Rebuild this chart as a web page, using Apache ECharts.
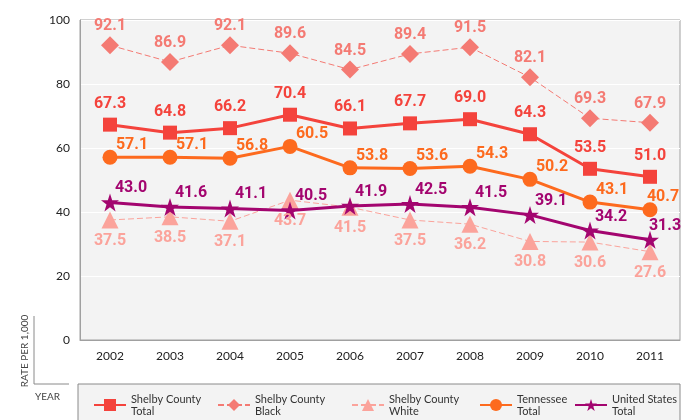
<!DOCTYPE html>
<html>
<head>
<meta charset="utf-8">
<script src="https://cdn.jsdelivr.net/npm/echarts@6/dist/echarts.min.js"></script>
<style>
  html, body { margin: 0; padding: 0; background: #fff; }
  #chart { width: 700px; height: 420px; }
</style>
</head>
<body>
<div id="chart"></div>
<script>
// 数据
var years = ['2002', '2003', '2004', '2005', '2006', '2007', '2008', '2009', '2010', '2011'];
var shelbyTotal = [67.3, 64.8, 66.2, 70.4, 66.1, 67.7, 69.0, 64.3, 53.5, 51.0];
var shelbyBlack = [92.1, 86.9, 92.1, 89.6, 84.5, 89.4, 91.5, 82.1, 69.3, 67.9];
var shelbyWhite = [37.5, 38.5, 37.1, 43.7, 41.5, 37.5, 36.2, 30.8, 30.6, 27.6];
var tennessee = [57.1, 57.1, 56.8, 60.5, 53.8, 53.6, 54.3, 50.2, 43.1, 40.7];
var unitedStates = [43.0, 41.6, 41.1, 40.5, 41.9, 42.5, 41.5, 39.1, 34.2, 31.3];
var yTicks = [0, 20, 40, 60, 80, 100];

var labelFont = 'Roboto, sans-serif';
var textFont = 'Lato, "Open Sans", sans-serif';

function makeSeries(name, values, color, symbol, size, width, dashed, offset, lastOffset) {
    return {
        name: name,
        type: 'line',
        data: values.map(function (v, i) {
            if (lastOffset && i === values.length - 1) {
                return { value: v, label: { offset: lastOffset } };
            }
            return v;
        }),
        symbol: symbol,
        symbolSize: size,
        color: color,
        lineStyle: { color: color, width: width, type: dashed ? [6, 3] : 'solid' },
        itemStyle: { color: color },
        label: {
            show: true,
            position: 'inside',
            offset: offset,
            color: color,
            fontFamily: labelFont,
            fontWeight: 'bold',
            fontSize: 16,
            formatter: function (p) { return p.value.toFixed(1) }
        },
        emphasis: { disabled: true },
        animation: false
    }
}

function legendItem(name, left) {
    return {
        data: [name],
        left: left,
        top: 388,
        orient: 'horizontal',
        itemWidth: 32,
        itemHeight: 15,
        itemGap: 0,
        textStyle: { color: '#333', fontFamily: textFont, fontSize: 11, lineHeight: 12 }
    }
}

var chart = echarts.init(document.getElementById('chart'));
var option = {
    animation: false,
    grid: {
        left: 80, right: 20, top: 20, bottom: 80,
        show: true,
        backgroundColor: '#f3f3f3',
        borderColor: '#a0a0a0',
        borderWidth: 1
    },
    xAxis: {
        type: 'category',
        data: years,
        boundaryGap: true,
        axisLine: { lineStyle: { color: '#a0a0a0' } },
        axisTick: { show: false },
        axisLabel: { color: '#222', fontFamily: textFont, fontSize: 12, margin: 10 }
    },
    yAxis: {
        type: 'value',
        min: yTicks[0],
        max: yTicks[yTicks.length - 1],
        interval: 20,
        axisLine: { show: true, lineStyle: { color: '#a0a0a0' } },
        axisTick: { show: false },
        axisLabel: { color: '#222', fontFamily: textFont, fontSize: 12, margin: 10 },
        splitLine: { lineStyle: { color: '#ffffff', width: 1 } }
    },
    legend: [
        legendItem('Shelby County\nTotal', 88),
        legendItem('Shelby County\nBlack', 212),
        legendItem('Shelby County\nWhite', 346),
        legendItem('Tennessee\nTotal', 474),
        legendItem('United States\nTotal', 569)
    ],
    graphic: [
        {
            type: 'rect', z: -10, silent: true,
            shape: { x: 78, y: 384, width: 602, height: 44 },
            style: { fill: '#f3f3f3', stroke: '#8a8a8a', lineWidth: 1 }
        },
        {
            type: 'polyline', silent: true,
            shape: { points: [[34, 316], [34, 384], [69, 384]] },
            style: { stroke: '#8a8a8a', lineWidth: 1, fill: null }
        },
        {
            type: 'text', silent: true,
            x: 25, y: 351, rotation: Math.PI / 2,
            style: {
                text: 'RATE PER 1,000', fill: '#444', font: '10px ' + textFont,
                align: 'center', verticalAlign: 'middle'
            }
        },
        {
            type: 'text', silent: true,
            x: 35, y: 397,
            style: {
                text: 'YEAR', fill: '#444', font: '10px ' + textFont,
                align: 'left', verticalAlign: 'middle'
            }
        }
    ],
    series: [
        makeSeries('Shelby County\nTotal', shelbyTotal, '#f4433c', 'rect', 14, 3, false, [0, -21]),
        makeSeries('Shelby County\nBlack', shelbyBlack, '#f47a73', 'diamond', 18, 1, true, [0, -19]),
        makeSeries('Shelby County\nWhite', shelbyWhite, '#fba39b', 'triangle', 17, 1, true, [0, 21]),
        makeSeries('Tennessee\nTotal', tennessee, '#fd6a1e', 'circle', 15, 3, false, [22, -12], [13, -13]),
        makeSeries('United States\nTotal', unitedStates, '#a3056f',
            'path://M50,0 L61.8,35.1 L98.9,35.1 L68.9,56.7 L80.3,91.5 L50,70 L19.7,91.5 L31.1,56.7 L1.1,35.1 L38.2,35.1 Z',
            18, 3, false, [21, -14], [15, -14])
    ]
};
chart.setOption(option);
</script>
</body>
</html>
